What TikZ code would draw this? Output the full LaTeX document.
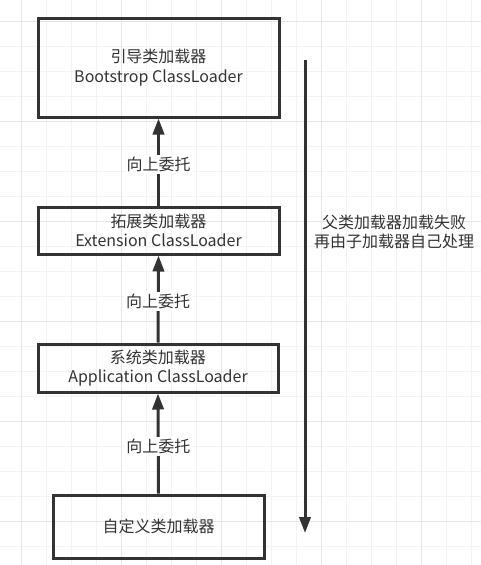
\documentclass[tikz,border=0pt]{standalone}
\usepackage{fontspec}
\setmainfont{Noto Sans CJK SC}
\usetikzlibrary{arrows.meta}
\definecolor{linegray}{HTML}{333333}
\definecolor{gridminor}{HTML}{F3F3F3}
\definecolor{gridmajor}{HTML}{E6E6E6}
\tikzset{every node/.style={font=\fontsize{12}{14.6}\selectfont, text=linegray},
  loader/.style={draw=linegray, line width=2.25pt, align=center, inner sep=0pt},
  upcall/.style={draw=linegray, line width=2.25pt, -{Triangle[length=12pt,width=8.5pt]}},
  tag/.style={fill=white, inner sep=1.5pt}}

\begin{document}
\begin{tikzpicture}[x=0.75pt,y=-0.75pt]
   \useasboundingbox (0,0) rectangle (481,565);
   \fill[white] (0,0) rectangle (481,565);
   \begin{scope}[line width=0.75pt]
    \foreach \g in {21,46,...,471} \draw[gridminor] (\g,0) -- (\g,565);
    \foreach \g in {21,46,...,546} \draw[gridminor] (0,\g) -- (481,\g);
    \foreach \g in {21,121,...,421} \draw[gridmajor] (\g,0) -- (\g,565);
    \foreach \g in {21,121,...,521} \draw[gridmajor] (0,\g) -- (481,\g);
   \end{scope}
   \node[loader, minimum width=180.75pt, minimum height=74.25pt] (boot) at (158.5,67.5)
        {引导类加载器\\Bootstrop ClassLoader};
   \node[loader, minimum width=180.75pt, minimum height=35.25pt] (ext) at (158.5,230.5)
        {拓展类加载器\\Extension ClassLoader};
   \node[loader, minimum width=180pt, minimum height=36pt] (app) at (158,368)
        {系统类加载器\\Application ClassLoader};
   \node[loader, minimum width=158.25pt, minimum height=47.25pt] (custom) at (158.5,526.5)
        {自定义类加载器};
   \draw[upcall] (ext.north) -- (boot.south) node[tag, pos=0.47] {向上委托};
   \draw[upcall] (app.north) -- (ext.south) node[tag, pos=0.47] {向上委托};
   \draw[upcall] (custom.north) -- (app.south) node[tag, pos=0.47] {向上委托};
   \coordinate (fail top) at (305,60);
   \coordinate (fail end) at (305,533);
   \draw[upcall] (fail top) -- (fail end);
   \node[align=center] (fail) at (394,232) {父类加载器加载失败\\再由子加载器自己处理};
\end{tikzpicture}
\end{document}
